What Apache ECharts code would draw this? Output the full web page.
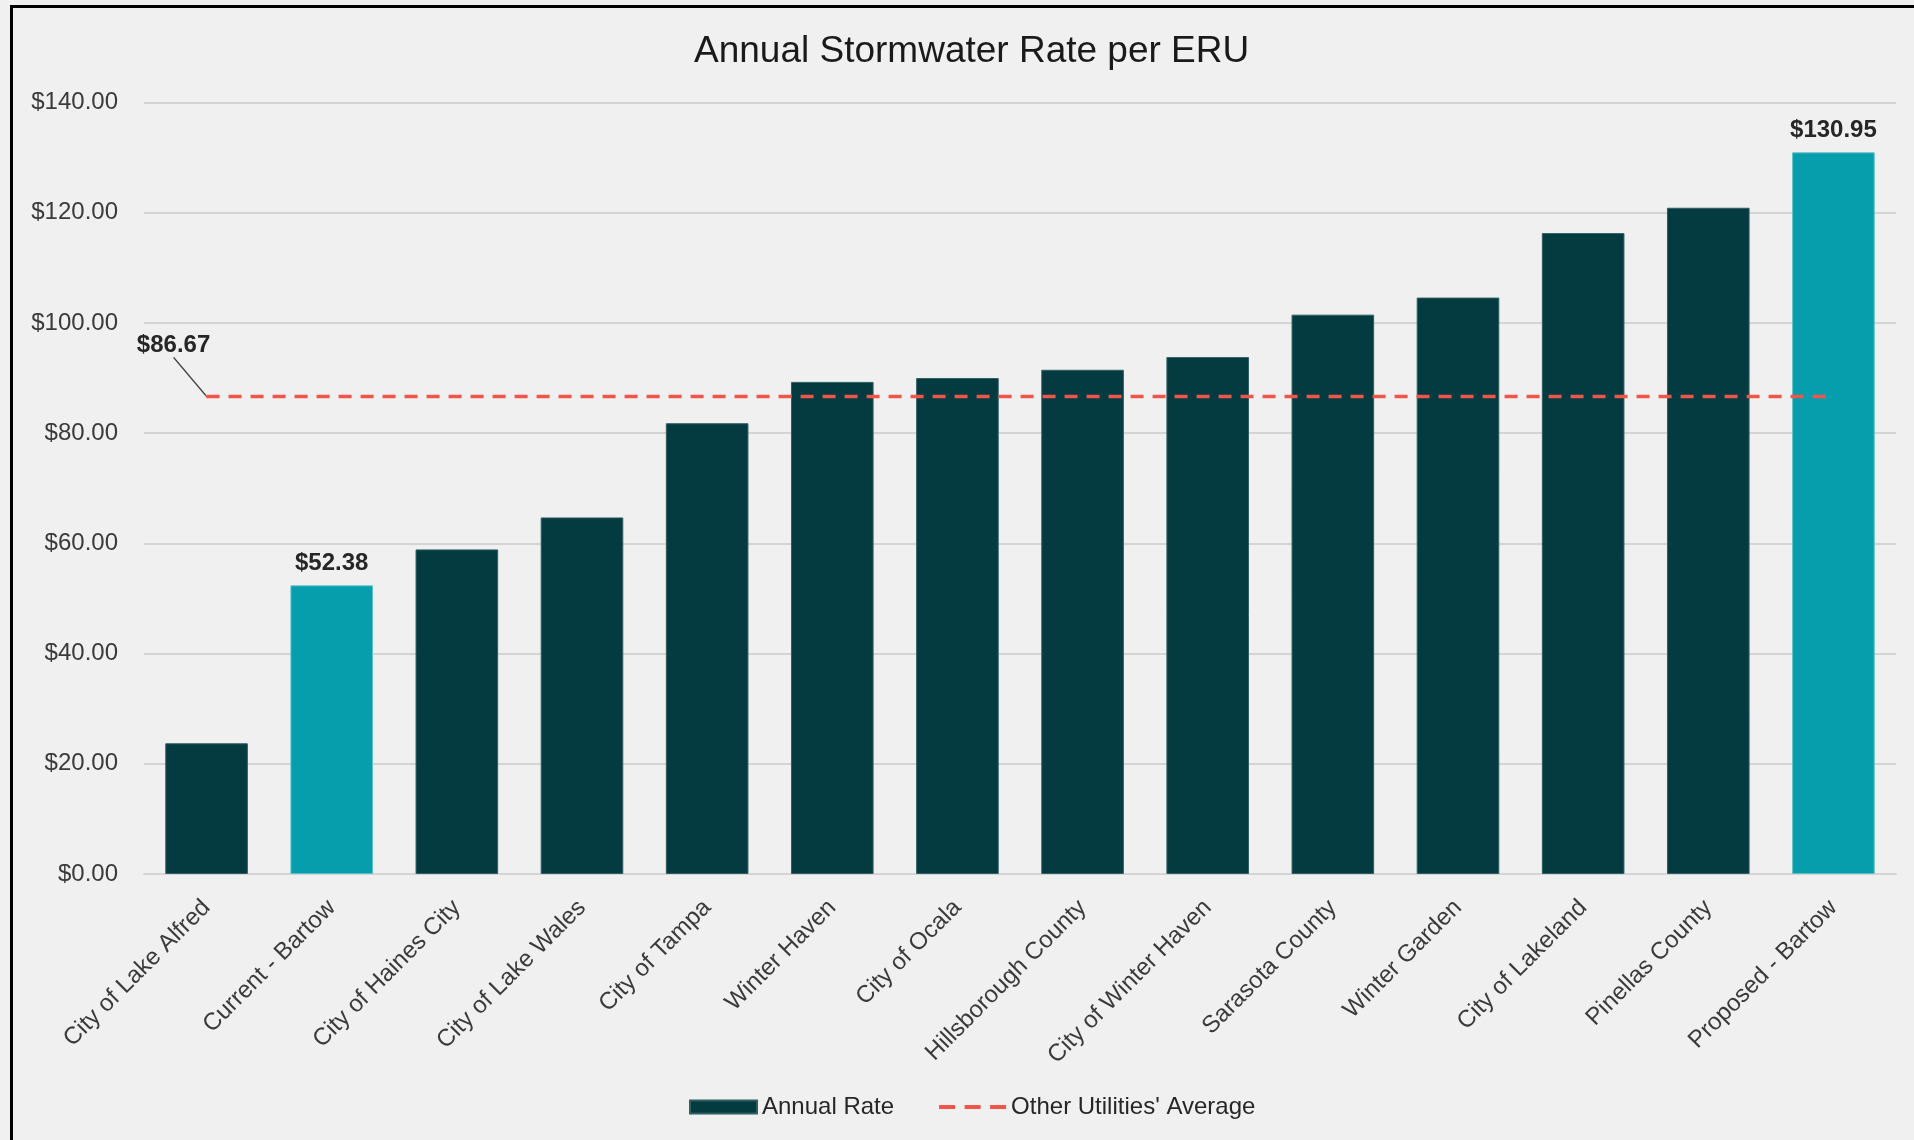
<!DOCTYPE html>
<html>
<head>
<meta charset="utf-8">
<script src="https://cdn.jsdelivr.net/npm/echarts@6/dist/echarts.min.js"></script>
<style>
html,body{margin:0;padding:0;background:#F0F0F0;}
#chart{position:absolute;left:0;top:0;width:1914px;height:1140px;}
#frame{position:absolute;left:10px;top:5px;right:-10px;bottom:-10px;border-left:3px solid #000;border-top:3px solid #000;pointer-events:none;}
</style>
</head>
<body>
<div id="chart"></div>
<div id="frame"></div>
<script>
const categories = ["City of Lake Alfred","Current - Bartow","City of Haines City","City of Lake Wales","City of Tampa","Winter Haven","City of Ocala","Hillsborough County","City of Winter Haven","Sarasota County","Winter Garden","City of Lakeland","Pinellas County","Proposed - Bartow"];
const annualRate = [23.72, 52.38, 58.9, 64.7, 81.8, 89.3, 90.0, 91.5, 93.8, 101.5, 104.6, 116.3, 120.9, 130.95];
const highlighted = [false, true, false, false, false, false, false, false, false, false, false, false, false, true];
const otherAverage = [86.67, 86.67, 86.67, 86.67, 86.67, 86.67, 86.67, 86.67, 86.67, 86.67, 86.67, 86.67, 86.67, 86.67];
const yTicks = [0, 20, 40, 60, 80, 100, 120, 140];

const DARK = '#033B41', TEAL = '#069EAC', RED = '#EF5649';
const FONT = '"Liberation Sans", Arial, sans-serif';
const DASH_ICON = 'path://M0 0h0.01v0.01h-0.01z M0 4.5H16V8.5H0Z M25.5 4.5H41.5V8.5H25.5Z M51 4.5H67V8.5H51Z M66.99 12.99h0.01v0.01h-0.01z';

const chart = echarts.init(document.getElementById('chart'), null, {renderer:'canvas'});
chart.setOption({
  backgroundColor: '#F0F0F0',
  animation: false,
  title: {
    text: 'Annual Stormwater Rate per ERU',
    left: 689, top: 28,
    textStyle: {fontFamily: FONT, fontSize: 37, fontWeight: 'normal', color: '#1a1a1a'}
  },
  legend: {
    left: 684, top: 1090,
    itemWidth: 67, itemHeight: 13, itemGap: 45,
    textStyle: {fontFamily: FONT, fontSize: 24, color: '#262626'},
    data: [{name: 'Annual Rate', icon: 'rect'}, {name: "Other Utilities' Average", icon: DASH_ICON, itemStyle: {color: RED}}]
  },
  grid: {left: 144, right: 18, top: 102.5, bottom: 266, containLabel: false},
  xAxis: {
    type: 'category', data: categories,
    axisLine: {show: true, lineStyle: {color: '#D4D4D4', width: 2}},
    axisTick: {show: false},
    axisLabel: {rotate: 45, interval: 0, margin: 30, fontFamily: FONT, fontSize: 24, color: '#3a3a3a'}
  },
  yAxis: {
    type: 'value', min: yTicks[0], max: yTicks[yTicks.length-1], interval: 20,
    axisLine: {show: false}, axisTick: {show: false},
    splitLine: {lineStyle: {color: '#D4D4D4', width: 2}},
    axisLabel: {margin: 26, fontFamily: FONT, fontSize: 24, color: '#3a3a3a',
      formatter: v => '$' + v.toFixed(2)}
  },
  series: [
    {
      name: 'Annual Rate', type: 'bar', barWidth: '66%',
      itemStyle: {color: DARK, borderColor: '#2F5E63', borderWidth: 1},
      data: annualRate.map((v, i) => highlighted[i] ? {
        value: v,
        itemStyle: {color: TEAL, borderColor: '#5CC0C9'},
        label: {show: true, position: 'top', distance: 10, fontFamily: FONT, fontSize: 24, fontWeight: 'bold', color: '#262626',
          formatter: p => '$' + p.value.toFixed(2)}
      } : v)
    },
    {
      name: "Other Utilities' Average", type: 'line',
      symbol: 'none', showSymbol: true,
      lineStyle: {color: RED, width: 3.5, type: [13, 9]},
      itemStyle: {color: RED},
      z: 5,
      data: otherAverage.map((v, i) => i === 0 ? {
        value: v, symbol: 'circle', symbolSize: 2,
        label: {show: true, position: 'top', distance: 5, fontFamily: FONT, fontSize: 24, fontWeight: 'bold', color: '#262626',
          formatter: p => '$' + p.value.toFixed(2)}
      } : v),
      labelLayout: {dx: -33, dy: -33},
      labelLine: {show: true, lineStyle: {color: '#404040', width: 1.5}}
    }
  ]
});
</script>
</body>
</html>
